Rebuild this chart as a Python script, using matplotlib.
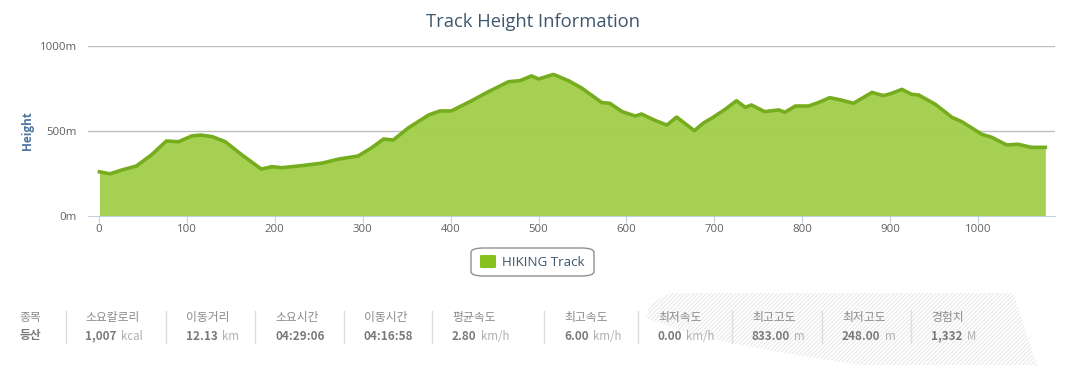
import numpy as np
import matplotlib.pyplot as plt
from matplotlib.patches import FancyBboxPatch, Polygon

# track profile
dist = [1, 13, 26, 43, 60, 77, 91, 106, 116, 129, 144, 163, 185, 197, 208, 227, 254,
        273, 295, 310, 324, 335, 352, 375, 388, 401, 424, 443, 466, 479, 492, 500, 517,
        534, 549, 572, 581, 595, 610, 617, 633, 646, 657, 677, 688, 697, 712, 725, 735,
        742, 757, 773, 780, 792, 807, 818, 831, 844, 858, 879, 892, 901, 913, 924, 932,
        951, 970, 981, 1004, 1015, 1032, 1045, 1060, 1076]
height = [260, 248, 270, 294, 359, 441, 437, 471, 476, 467, 437, 359, 276, 290, 284, 294, 311,
          335, 353, 400, 453, 447, 518, 594, 618, 618, 678, 731, 790, 796, 824, 806, 833,
          796, 753, 667, 663, 614, 588, 600, 561, 535, 582, 502, 549, 576, 627, 678, 639,
          653, 614, 624, 610, 647, 647, 667, 696, 682, 663, 727, 708, 721, 745, 716, 712,
          657, 580, 555, 480, 463, 418, 422, 404, 404]

x_ticks = [0, 100, 200, 300, 400, 500, 600, 700, 800, 900, 1000]
y_ticks = [0, 500, 1000]
y_labels = ['0m', '500m', '1000m']

stat_names = ['종목', '소요칼로리', '이동거리', '소요시간', '이동시간', '평균속도',
              '최고속도', '최저속도', '최고고도', '최저고도', '경험치']
stat_values = ['등산', '1,007', '12.13', '04:29:06', '04:16:58', '2.80',
               '6.00', '0.00', '833.00', '248.00', '1,332']
stat_units = ['', 'kcal', 'km', '', '', 'km/h', 'km/h', 'km/h', 'm', 'm', 'M']

W, H = 1071, 365
plt.rcParams['hatch.linewidth'] = 0.7
plt.rcParams['font.family'] = ['Open Sans', 'DejaVu Sans']
fig = plt.figure(figsize=(W / 100, H / 100), dpi=100)

# faint hatched background behind the right part of the stats row
hatch_px = [(670, 293), (1013, 293), (1037, 365), (860, 365), (790, 354), (725, 342),
            (680, 330), (646, 318), (650, 304)]
bg = Polygon([(x / W, 1 - y / H) for x, y in hatch_px], closed=True,
             transform=fig.transFigure, facecolor='white', edgecolor='#e6e6e6',
             hatch='////////', lw=0, zorder=0)
fig.patches.append(bg)

ax = fig.add_axes([88 / W, 149 / H, (1055 - 88) / W, (319 - 149) / H])
ax.set_xlim(-12, 1087)
ax.set_ylim(0, 1000)

for yv in y_ticks[1:]:
    ax.axhline(yv, color='#c0c0c0', lw=1, zorder=1)
ax.fill_between(dist, height, 0, color='#a3cf4c', alpha=0.97, lw=0, zorder=2)
ax.plot(dist, height, color='#76ad1e', lw=2.6, solid_joinstyle='round', zorder=3)

for s in ['top', 'right', 'left']:
    ax.spines[s].set_visible(False)
ax.spines['bottom'].set_color('#c0d0e0')
ax.set_xticks(x_ticks)
ax.set_yticks(y_ticks)
ax.set_yticklabels(y_labels)
ax.tick_params(axis='x', colors='#c0d0e0', length=5, labelcolor='#606060', labelsize=8.2, pad=1)
ax.tick_params(axis='y', length=0, labelcolor='#606060', labelsize=8.2, pad=8)
ax.set_ylabel('Height', color='#4d759e', fontweight='bold', fontsize=8.5, labelpad=4)

fig.text(533 / W, 1 - 22 / H, 'Track Height Information', ha='center', va='center',
         fontsize=13.2, color='#3e576f')

# legend box
fig.patches.append(FancyBboxPatch((471 / W, 1 - 276 / H), 123 / W, 28 / H,
                                  boxstyle='round,pad=0,rounding_size=0.012',
                                  transform=fig.transFigure, facecolor='white',
                                  edgecolor='#909090', lw=1))
fig.patches.append(FancyBboxPatch((480 / W, 1 - 268 / H), 16 / W, 13 / H,
                                  boxstyle='round,pad=0,rounding_size=0.002',
                                  transform=fig.transFigure, facecolor='#86c11d',
                                  edgecolor='none'))
fig.text(502 / W, 1 - 262 / H, 'HIKING Track', ha='left', va='center',
         fontsize=9.6, color='#3e576f')

# stats row
col_x = [19, 85, 186, 275, 364, 452, 564, 658, 752, 842, 931]
sep_x = [66, 166, 255, 344, 432, 544, 638, 732, 822, 911]
kfont = ['Noto Sans CJK KR', 'DejaVu Sans']
for sx in sep_x:
    fig.add_artist(plt.Line2D([sx / W, sx / W], [1 - 311 / H, 1 - 343 / H],
                              color='#dddddd', lw=1, transform=fig.transFigure))
renderer = fig.canvas.get_renderer()
for i, cx in enumerate(col_x):
    fig.text(cx / W, 1 - 317 / H, stat_names[i], ha='left', va='center',
             fontsize=8.5, color='#8a8a8a', family=kfont)
    t = fig.text(cx / W, 1 - 336 / H, stat_values[i], ha='left', va='center',
                 fontsize=8.5, color='#7a7a7a', fontweight='bold', family=kfont)
    if stat_units[i]:
        bb = t.get_window_extent(renderer=renderer)
        fig.text(bb.x1 / W + 4 / W, 1 - 336 / H, stat_units[i], ha='left', va='center',
                 fontsize=8.3, color='#b0b0b0', family=kfont)

fig.savefig('out.png', dpi=100)
